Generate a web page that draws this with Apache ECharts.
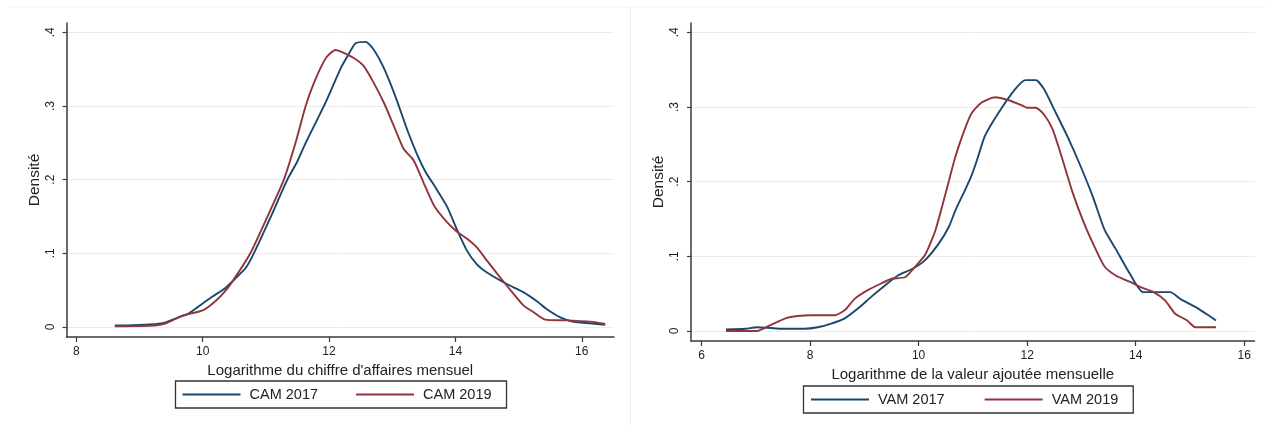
<!DOCTYPE html>
<html>
<head>
<meta charset="utf-8">
<script src="https://cdn.jsdelivr.net/npm/echarts@6/dist/echarts.min.js"></script>
<style>
  html, body { margin: 0; padding: 0; background: #ffffff; }
  #chart { width: 1265px; height: 425px; }
</style>
</head>
<body>
<div id="chart"></div>
<script>
// ---- Data ----
const seriesNamesLeft = ['CAM 2017', 'CAM 2019'];
const seriesNamesRight = ['VAM 2017', 'VAM 2019'];

const xTicksLeft = [8, 10, 12, 14, 16];
const xTicksRight = [6, 8, 10, 12, 14, 16];
const yTicks = [0, 0.1, 0.2, 0.3, 0.4];

const xTitleLeft = "Logarithme du chiffre d'affaires mensuel";
const xTitleRight = "Logarithme de la valeur ajoutée mensuelle";
const yTitle = 'Densité';

const cam2017 = [
  [8.61,0.002],[8.77,0.002],[9.09,0.003],[9.27,0.004],[9.40,0.006],[9.62,0.013],[9.77,0.018],
  [10.0,0.032],[10.15,0.041],[10.36,0.053],[10.52,0.066],[10.68,0.080],[10.81,0.100],[11.07,0.148],
  [11.34,0.200],[11.50,0.225],[11.63,0.250],[11.92,0.300],[12.19,0.352],[12.29,0.367],[12.42,0.385],
  [12.58,0.387],[12.71,0.376],[12.87,0.351],[13.05,0.313],[13.24,0.267],[13.39,0.235],[13.53,0.210],
  [13.68,0.190],[13.87,0.163],[14.03,0.131],[14.18,0.104],[14.34,0.085],[14.50,0.074],[14.82,0.058],
  [15.08,0.047],[15.29,0.035],[15.45,0.024],[15.66,0.013],[15.87,0.007],[16.13,0.005],[16.37,0.003]
];
const cam2019 = [
  [8.61,0.001],[9.24,0.002],[9.40,0.0045],[9.67,0.015],[10.01,0.023],[10.20,0.035],[10.36,0.049],
  [10.52,0.068],[10.755,0.100],[11.0,0.145],[11.285,0.200],[11.47,0.250],[11.63,0.300],[11.76,0.331],
  [11.95,0.365],[12.10,0.376],[12.18,0.374],[12.39,0.365],[12.55,0.354],[12.71,0.331],[12.87,0.304],
  [13.03,0.272],[13.18,0.242],[13.34,0.226],[13.50,0.195],[13.66,0.165],[13.87,0.142],[14.03,0.129],
  [14.18,0.120],[14.34,0.108],[14.50,0.090],[14.71,0.067],[14.92,0.045],[15.08,0.029],[15.24,0.020],
  [15.42,0.010],[15.76,0.009],[16.18,0.007],[16.37,0.004]
];
const vam2017 = [
  [6.45,0.002],[6.81,0.003],[7.02,0.005],[7.27,0.004],[7.46,0.003],[7.89,0.003],[8.14,0.005],
  [8.39,0.010],[8.64,0.017],[8.88,0.030],[9.13,0.046],[9.38,0.061],[9.63,0.075],[9.88,0.083],
  [10.12,0.095],[10.37,0.117],[10.56,0.140],[10.68,0.162],[10.87,0.191],[10.98,0.209],[11.09,0.232],
  [11.22,0.261],[11.47,0.292],[11.78,0.324],[11.97,0.336],[12.16,0.336],[12.31,0.324],[12.53,0.292],
  [12.74,0.261],[12.96,0.225],[13.21,0.180],[13.43,0.135],[13.64,0.109],[13.89,0.077],[14.14,0.052],
  [14.64,0.052],[14.82,0.043],[15.13,0.031],[15.32,0.022],[15.48,0.014]
];
const vam2019 = [
  [6.45,0.000],[7.02,0.000],[7.27,0.008],[7.55,0.017],[7.77,0.020],[8.02,0.021],[8.45,0.021],
  [8.64,0.028],[8.82,0.043],[9.07,0.055],[9.32,0.064],[9.50,0.070],[9.75,0.072],[9.91,0.084],
  [10.12,0.102],[10.31,0.135],[10.50,0.185],[10.68,0.234],[10.87,0.274],[10.98,0.292],[11.16,0.306],
  [11.41,0.313],[11.66,0.309],[11.91,0.302],[12.0,0.299],[12.16,0.299],[12.31,0.290],[12.47,0.270],
  [12.65,0.230],[12.84,0.185],[13.05,0.144],[13.24,0.113],[13.43,0.086],[13.64,0.074],[13.89,0.066],
  [14.08,0.059],[14.33,0.052],[14.54,0.041],[14.73,0.023],[14.95,0.014],[15.10,0.005],[15.48,0.005]
];

// ---- Styling ----
const FONT = "'Liberation Sans', Arial, sans-serif";
const BLUE = '#1a476f';
const RED = '#90353b';
const AXIS = '#3a3a3a';
const TXT = '#222222';

function yFmt(v) {
  if (Math.abs(v) < 1e-9) return '0';
  return v.toFixed(1).replace(/^0\./, '.');
}

function xAxisDef(idx, min, max, ticks, title) {
  return {
    type: 'value', gridIndex: idx, min: min, max: max,
    position: 'bottom',
    name: title, nameLocation: 'middle', nameGap: 21,
    nameTextStyle: { fontFamily: FONT, fontSize: 15, color: TXT },
    axisLine: { show: true, onZero: false, lineStyle: { color: AXIS, width: 1.5 } },
    axisTick: { show: true, length: 5, lineStyle: { color: AXIS, width: 1.2 }, customValues: ticks },
    axisLabel: { customValues: ticks, margin: 9, fontFamily: FONT, fontSize: 12, color: TXT },
    splitLine: { show: false }
  };
}
function yAxisDef(idx, min, max) {
  return {
    type: 'value', gridIndex: idx, min: min, max: max,
    position: 'left',
    name: yTitle, nameLocation: 'middle', nameGap: 24,
    nameTextStyle: { fontFamily: FONT, fontSize: 15.5, color: TXT },
    axisLine: { show: true, onZero: false, lineStyle: { color: AXIS, width: 1.5 } },
    axisTick: { show: true, length: 4, lineStyle: { color: AXIS, width: 1.2 }, customValues: yTicks },
    axisLabel: { customValues: yTicks, rotate: 90, margin: 10, fontFamily: FONT, fontSize: 12, color: TXT, formatter: yFmt },
    splitLine: { show: true, lineStyle: { color: '#ececec', width: 1 } }
  };
}
function lineSeries(name, data, color, idx) {
  return {
    type: 'line', name: name, data: data, xAxisIndex: idx, yAxisIndex: idx,
    showSymbol: false, symbol: 'none', smooth: 0.2,
    lineStyle: { color: color, width: 1.9 }, itemStyle: { color: color },
    clip: false, animation: false
  };
}
function legendDef(names, left, top, pad, gap) {
  return {
    data: names, left: left, top: top, orient: 'horizontal',
    icon: 'rect', itemWidth: 58, itemHeight: 2, itemGap: gap,
    padding: pad, borderColor: '#333333', borderWidth: 1.3, borderRadius: 0,
    backgroundColor: '#ffffff',
    textStyle: { fontFamily: FONT, fontSize: 14.5, color: TXT, padding: [0, 0, 0, 4] },
    selectedMode: false
  };
}

const chart = echarts.init(document.getElementById('chart'), null, { renderer: 'canvas' });
chart.setOption({
  backgroundColor: '#ffffff',
  animation: false,
  grid: [
    { left: 66.5, top: 23, width: 547.5, height: 314 },
    { left: 691, top: 23, width: 563.5, height: 318 }
  ],
  xAxis: [
    xAxisDef(0, 7.845, 16.51, xTicksLeft, xTitleLeft),
    xAxisDef(1, 5.805, 16.19, xTicksRight, xTitleRight)
  ],
  yAxis: [
    yAxisDef(0, -0.0136, 0.4126),
    yAxisDef(1, -0.0134, 0.4125)
  ],
  legend: [
    legendDef(seriesNamesLeft, 175.5, 381, [6, 15, 6, 7], 38),
    legendDef(seriesNamesRight, 803.5, 386, [6, 15, 6, 7.5], 40)
  ],
  graphic: [
    { type: 'line', shape: { x1: 8, y1: 7, x2: 1265, y2: 7 }, style: { stroke: '#f0f0f0', lineWidth: 1 }, silent: true },
    { type: 'line', shape: { x1: 630.5, y1: 7, x2: 630.5, y2: 425 }, style: { stroke: '#eeeeee', lineWidth: 1 }, silent: true }
  ],
  series: [
    lineSeries(seriesNamesLeft[0], cam2017, BLUE, 0),
    lineSeries(seriesNamesLeft[1], cam2019, RED, 0),
    lineSeries(seriesNamesRight[0], vam2017, BLUE, 1),
    lineSeries(seriesNamesRight[1], vam2019, RED, 1)
  ]
});
</script>
</body>
</html>
